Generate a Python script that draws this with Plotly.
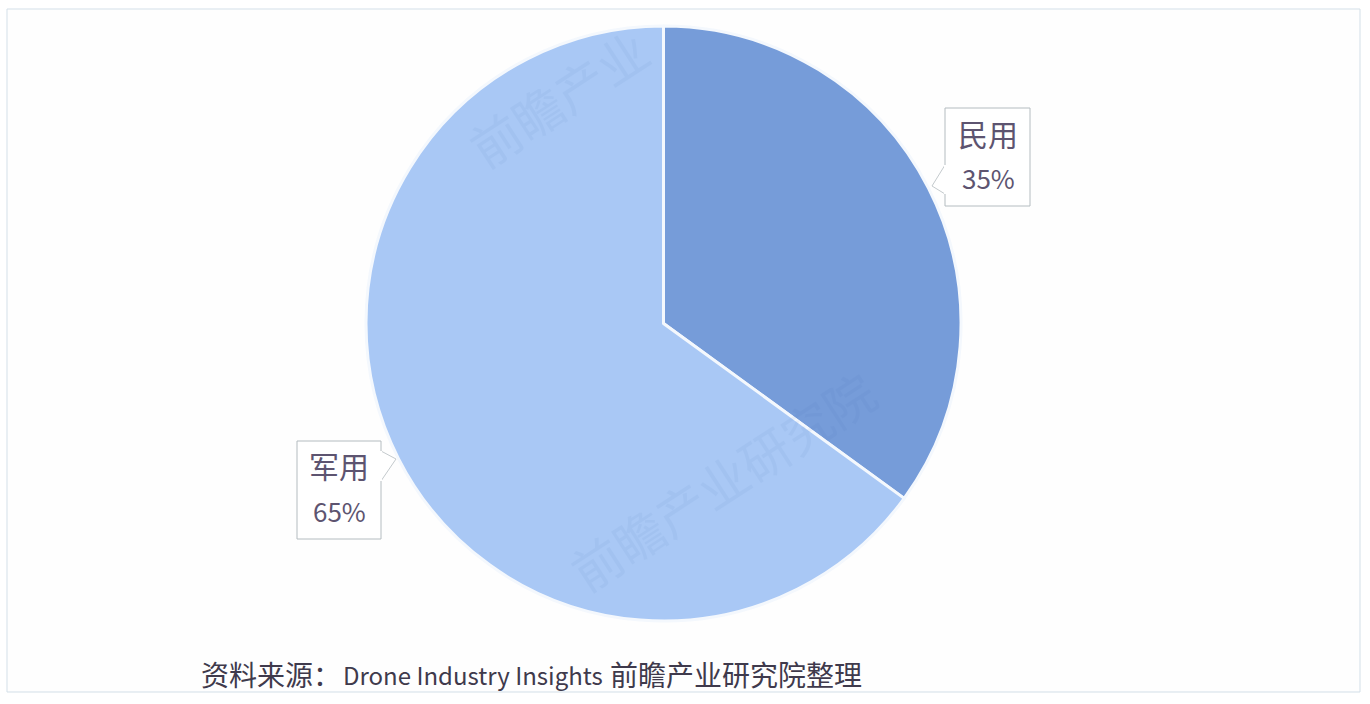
import plotly.graph_objects as go

W = 1370
H = 704

labels = ["民用", "军用"]
values = [35, 65]
colors = ["#769cd9", "#a9c8f5"]
source_lead = "资料来源："
source_name = "Drone Industry Insights"
source_tail = "前瞻产业研究院整理"
watermark_short = "前瞻产业"
watermark_long = "前瞻产业研究院"


def px_x(v):
    return v / W


def px_y(v):
    return 1 - v / H


fig = go.Figure(go.Pie(
    labels=labels, values=values, sort=False, direction="clockwise", rotation=0,
    marker=dict(colors=colors, line=dict(color="#f4f8fd", width=3)),
    textinfo="none", showlegend=False, hoverinfo="label+percent",
    domain=dict(x=[px_x(366), px_x(961)], y=[px_y(621), px_y(26)]),
))

# outer frame
fig.add_shape(type="rect", xref="paper", yref="paper", layer="below",
              x0=px_x(7), x1=px_x(1360), y0=px_y(692), y1=px_y(9),
              line=dict(color="#d3dfe8", width=1), fillcolor="#fefefe")

# callout boxes
boxes = [(945, 108, 1030, 206), (297, 441, 381, 539)]
for x0, y0, x1, y1 in boxes:
    fig.add_shape(type="rect", xref="paper", yref="paper",
                  x0=px_x(x0), x1=px_x(x1), y0=px_y(y1), y1=px_y(y0),
                  line=dict(color="#b4bcc0", width=1), fillcolor="white")

# callout tails, pointing at the slices
tails = [[(945, 165), (932, 186), (945, 194)], [(381, 451), (396, 459), (381, 481)]]
for (ax, ay), (bx, by), (cx, cy) in tails:
    path = "M %f %f L %f %f L %f %f" % (px_x(ax), px_y(ay), px_x(bx), px_y(by), px_x(cx), px_y(cy))
    fig.add_shape(type="path", path=path, xref="paper", yref="paper",
                  line=dict(color="#c4cacd", width=1), fillcolor="white")
    fig.add_shape(type="line", xref="paper", yref="paper",
                  x0=px_x(ax), x1=px_x(cx), y0=px_y(ay), y1=px_y(cy),
                  line=dict(color="white", width=2))

font_cjk = "Noto Sans CJK SC"
callouts = [(988, 133, labels[0], 30), (988, 177, "35%", 26),
            (339, 465, labels[1], 30), (339, 510, "65%", 26)]
for x, y, txt, size in callouts:
    fig.add_annotation(x=px_x(x), y=px_y(y), xref="paper", yref="paper", text=txt,
                       xanchor="center", yanchor="middle", showarrow=False,
                       font=dict(family=font_cjk, size=size, color="#5d5470"))

# source line, the latin part is set smaller than the chinese
source_parts = [(199, source_lead, 28), (341, source_name, 24), (608, source_tail, 28)]
for x, txt, size in source_parts:
    fig.add_annotation(x=px_x(x), y=px_y(674), xref="paper", yref="paper",
                       xanchor="left", yanchor="middle", text=txt, showarrow=False,
                       font=dict(family=font_cjk, size=size, color="#3f3a4c"))

# faint watermarks over the pie
marks = [(558, 97, watermark_short), (722, 480, watermark_long)]
for x, y, txt in marks:
    fig.add_annotation(x=px_x(x), y=px_y(y), xref="paper", yref="paper", text=txt,
                       xanchor="center", yanchor="middle", showarrow=False, textangle=-33,
                       opacity=0.05, font=dict(family=font_cjk, size=50, color="#2f5fa8"))

fig.update_layout(width=W, height=H, margin=dict(l=0, r=0, t=0, b=0),
                  paper_bgcolor="white", plot_bgcolor="white")

# page has a default body margin, drop it so the figure sits at 0,0
fig.write_html("out.html", config={"displayModeBar": False},
               post_script="document.body.style.margin='0';")
